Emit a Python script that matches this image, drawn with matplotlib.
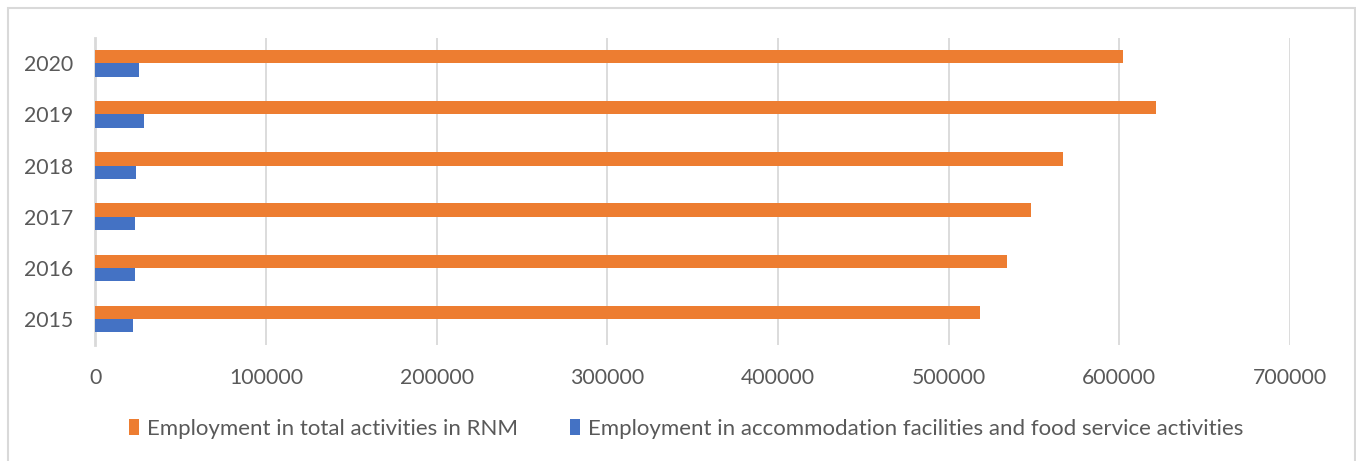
import numpy as np
import matplotlib
matplotlib.use('Agg')
import matplotlib.pyplot as plt
from matplotlib.patches import Rectangle

# Du lieu lao dong theo nam
years = ['2015', '2016', '2017', '2018', '2019', '2020']
total_rnm = [518600, 534000, 548500, 567000, 621300, 602400]
accommodation_food = [21800, 23300, 23300, 23500, 28600, 25700]

orange = '#ED7D31'
blue = '#4472C4'
text_col = '#595959'
grid_col = '#D9D9D9'

plt.rcParams['font.family'] = ['Lato', 'DejaVu Sans']

fig = plt.figure(figsize=(13.56, 4.61), dpi=100)
ax = fig.add_axes([95.5 / 1356, 1 - 344.7 / 461, (1290 - 95.5) / 1356, 307 / 461])

y = np.arange(len(years))
h = 0.26
ax.barh(y + h / 2, total_rnm, height=h, color=orange, label='Employment in total activities in RNM', zorder=3)
ax.barh(y - h / 2, accommodation_food, height=h, color=blue,
        label='Employment in accommodation facilities and food service activities', zorder=3)

ax.set_xlim(0, 700000)
ax.set_ylim(-0.5, len(years) - 0.5)
ax.set_xticks(np.arange(0, 700001, 100000))
ax.set_xticklabels([str(v) for v in range(0, 700001, 100000)])
ax.set_yticks(y)
ax.set_yticklabels(years)

ax.grid(axis='x', color=grid_col, linewidth=1.3, zorder=0)
for s in ['top', 'right', 'bottom']:
    ax.spines[s].set_visible(False)
ax.spines['left'].set_color(grid_col)
ax.spines['left'].set_linewidth(2)
ax.tick_params(axis='both', length=0, labelsize=15.3, colors=text_col)
ax.tick_params(axis='x', pad=17)
ax.tick_params(axis='y', pad=16)

leg = fig.legend(loc='center', bbox_to_anchor=(0.506, 1 - 429 / 461), ncol=2, frameon=False,
                 fontsize=16, handlelength=0.45, handleheight=0.75, handletextpad=0.4,
                 columnspacing=2.3, labelcolor=text_col)

# Khung vien bao quanh bieu do
fig.add_artist(Rectangle((8 / 1356, -0.01), 1346.5 / 1356, 1 - 8 / 461 + 0.01,
                         transform=fig.transFigure, fill=False, edgecolor=grid_col, linewidth=1.5))

fig.savefig('out.png', dpi=100)
